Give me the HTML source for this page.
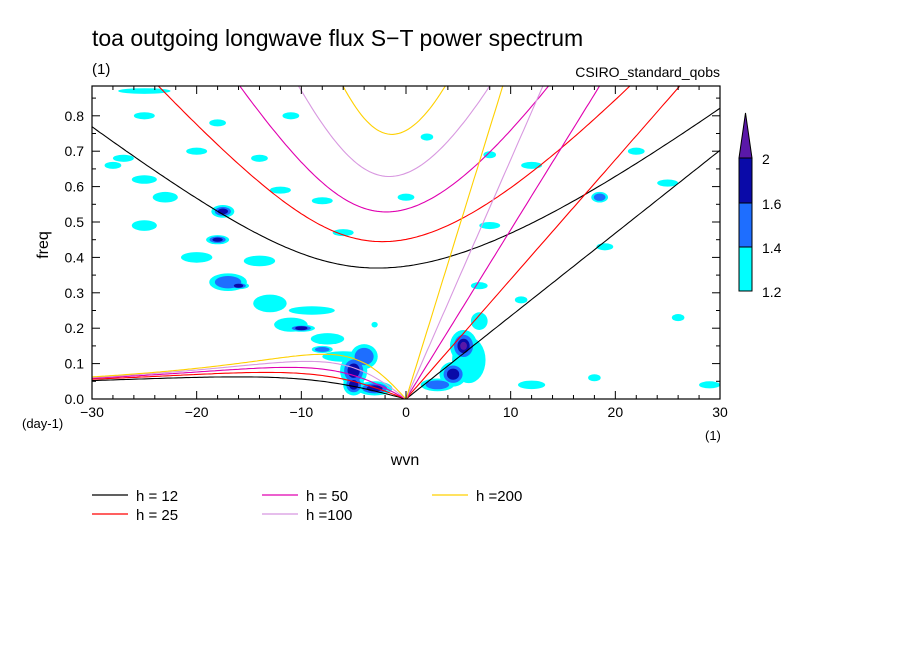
<!DOCTYPE html>
<html><head><meta charset="utf-8">
<style>
html,body{margin:0;padding:0;background:#fff;}
svg{display:block;font-family:"Liberation Sans",sans-serif;}
</style></head>
<body>
<svg id="chart" width="904" height="654" viewBox="0 0 904 654" xmlns="http://www.w3.org/2000/svg">
<defs><clipPath id="plotclip"><rect x="92" y="86" width="628" height="313"/></clipPath></defs>
<text x="92" y="46" font-size="23">toa outgoing longwave flux S−T power spectrum</text>
<text x="92" y="74" font-size="15">(1)</text>
<text x="720" y="77" font-size="14" text-anchor="end">CSIRO_standard_qobs</text>
<g id="blobs" clip-path="url(#plotclip)"></g>
<g id="curves" clip-path="url(#plotclip)"></g>
<rect x="92" y="86" width="628" height="313" fill="none" stroke="#000" stroke-width="1.2"/>
<g id="axes"></g>
<text x="405" y="465" font-size="16" text-anchor="middle">wvn</text>
<text x="48" y="245" font-size="16" text-anchor="middle" transform="rotate(-90 48 245)">freq</text>
<text x="22" y="428" font-size="13">(day-1)</text>
<text x="705" y="440" font-size="13">(1)</text>
<g id="colorbar"></g>
<g id="legend"></g>
</svg>
<script>
// ---- data ----
const depths = [12, 25, 50, 100, 200];
const depthColors = ["#000000", "#ff0000", "#e000b0", "#d898e0", "#ffd000"];
const xTicks = [-30, -20, -10, 0, 10, 20, 30];
const yTicks = [0, 0.1, 0.2, 0.3, 0.4, 0.5, 0.6, 0.7, 0.8];
const cbLevels = [1.2, 1.4, 1.6, 2];
const cbColors = ["#00ffff", "#1e6eff", "#0a0aa8", "#5a18a8"];
// contour blobs: wavenumber, frequency, radius in wvn, radius in freq, peak level index
const blobK = [-25,-27,-25,-17.5,-25,-18,-14,-17,-16,-13,-11,-10,-7.5,-8,-4,-5,-5,-3,-6,-9,-20,-23,
  5.5,4.5,3,7,6,12,
  -11,-14,-12,-20,-18,-25,-8,0,-6,8,7,-3,12,18.5,25,22,19,26,29,18,8,11,2,-28];
const blobF = [0.87,0.68,0.62,0.53,0.49,0.45,0.39,0.33,0.32,0.27,0.21,0.2,0.17,0.14,0.12,0.08,0.04,0.03,0.12,0.25,0.4,0.57,
  0.15,0.07,0.04,0.22,0.11,0.04,
  0.8,0.68,0.59,0.7,0.78,0.8,0.56,0.57,0.47,0.49,0.32,0.21,0.66,0.57,0.61,0.7,0.43,0.23,0.04,0.06,0.69,0.28,0.74,0.66];
const blobRK = [2.5,1,1.2,1.1,1.2,1.1,1.5,1.8,1,1.6,1.6,1.3,1.6,1,1.3,1.3,1,1.7,2,2.2,1.5,1.2,
  1.3,1.3,1.6,0.8,1.6,1.3,
  0.8,0.8,1,1,0.8,1,1,0.8,1,1,0.8,0.3,1,0.8,1,0.8,0.8,0.6,1,0.6,0.6,0.6,0.6,0.8];
const blobRF = [0.008,0.01,0.012,0.018,0.015,0.013,0.015,0.025,0.01,0.025,0.02,0.01,0.016,0.01,0.035,0.045,0.03,0.02,0.015,0.012,0.015,0.015,
  0.045,0.035,0.018,0.025,0.065,0.012,
  0.01,0.01,0.01,0.01,0.01,0.01,0.01,0.01,0.01,0.01,0.01,0.008,0.01,0.015,0.01,0.01,0.01,0.01,0.01,0.01,0.01,0.01,0.01,0.01];
const blobPeak = [1,1,1,3,1,3,1,2,3,1,1,3,1,2,2,3,3,3,1,1,1,1,
  4,3,2,1,1,1,
  1,1,1,1,1,1,1,1,1,1,1,1,1,2,1,1,1,1,1,1,1,1,1,1];

// ---- axes ----
const NS = "http://www.w3.org/2000/svg";
const X0 = 92, X1 = 720, Y0 = 399, YPER = 354;
const xs = k => X0 + (k + 30) / 60 * (X1 - X0);
const ys = f => Y0 - f * YPER;
function mk(tag, attrs, parent) {
  const e = document.createElementNS(NS, tag);
  for (const a in attrs) e.setAttribute(a, attrs[a]);
  parent.appendChild(e); return e;
}
const axes = document.getElementById("axes");
for (let k = -30; k <= 30; k += 2) {
  const major = k % 10 === 0, L = major ? 8 : 4;
  const t1 = mk("line", {x1: xs(k), x2: xs(k), y1: Y0, y2: Y0 - L, stroke: "#000"}, axes);
  
  
  const t2 = mk("line", {x1: xs(k), x2: xs(k), y1: 86, y2: 86 + L, stroke: "#000"}, axes);
  
  
}
for (let i = 0; i <= 17; i++) {
  const f = i * 0.05, major = i % 2 === 0, L = major ? 8 : 4;
  const t1 = mk("line", {x1: X0, x2: X0 + L, y1: ys(f), y2: ys(f), stroke: "#000"}, axes);
  
  
  const t2 = mk("line", {x1: X1, x2: X1 - L, y1: ys(f), y2: ys(f), stroke: "#000"}, axes);
  
  
}
xTicks.forEach(k => {
  const t = mk("text", {x: xs(k), y: 417, "font-size": 14, "text-anchor": "middle"}, axes);
  t.textContent = k < 0 ? "−" + (-k) : String(k);
  
  
});
yTicks.forEach(f => {
  const t = mk("text", {x: 84, y: ys(f) + 5, "font-size": 14, "text-anchor": "end"}, axes);
  t.textContent = f.toFixed(1);
  
  
});

// ---- blobs ----
const bg = document.getElementById("blobs");
const scales = [1, 0.7, 0.45, 0.25];
for (let lv = 0; lv < 4; lv++) {
  blobK.forEach((k, i) => {
    if (blobPeak[i] <= lv) return;
    const rx = blobRK[i] * scales[lv] * (X1 - X0) / 60, ry = blobRF[i] * scales[lv] * YPER;
    const e = mk("ellipse", {cx: xs(k), cy: ys(blobF[i]), rx: Math.max(rx, 2), ry: Math.max(ry, 2), fill: cbColors[lv]}, bg);
    
    
  });
}

// ---- dispersion curves ----
const R = 6.371e6, g = 9.81, beta = 2 * 7.292e-5 / R, conv = 86400 / (2 * Math.PI);
const cg = document.getElementById("curves");
function path(pts, color, name) {
  const d = pts.map((p, i) => (i ? "L" : "M") + xs(p[0]).toFixed(1) + " " + ys(p[1]).toFixed(1)).join(" ");
  const e = mk("path", {d: d, fill: "none", stroke: color, "stroke-width": 1.1}, cg);
  
  
}
depths.forEach((h, j) => {
  const c = Math.sqrt(g * h), col = depthColors[j];
  const kel = [], ig = [], er = [];
  for (let w = -30; w <= 30.001; w += 0.25) {
    const k = w / R;
    if (w >= 0) kel.push([w, k * c * conv]);
    let om = Math.sqrt(3 * beta * c + k * k * c * c);
    for (let it = 0; it < 30; it++) om = Math.sqrt(Math.max(3 * beta * c + k * k * c * c + beta * k * c * c / om, 1e-14));
    ig.push([w, om * conv]);
    if (w <= 0) er.push([w, -beta * k / (k * k + 3 * beta / c) * conv]);
  }
  path(kel, col, "kelvin-curve-h" + h);
  path(ig, col, "ig-curve-h" + h);
  path(er, col, "er-curve-h" + h);
});

// ---- colorbar ----
const cb = document.getElementById("colorbar");
const segY = [291, 247, 203, 158];
for (let i = 0; i < 3; i++) {
  const r = mk("rect", {x: 739, y: segY[i + 1], width: 13, height: segY[i] - segY[i + 1], fill: cbColors[i], stroke: "#000", "stroke-width": 1}, cb);
  
  
}
const tri = mk("polygon", {points: "739,158 752,158 745.5,113", fill: cbColors[3], stroke: "#000", "stroke-width": 1}, cb);


cbLevels.forEach((v, i) => {
  const t = mk("text", {x: 762, y: segY[i] + 6, "font-size": 14}, cb);
  t.textContent = String(v);
  
  
});

// ---- legend ----
const lg = document.getElementById("legend");
const legX = [92, 92, 262, 262, 432], legY = [495, 514, 495, 514, 495];
const legTxt = ["h = 12", "h = 25", "h = 50", "h =100", "h =200"];
depths.forEach((h, i) => {
  const l = mk("line", {x1: legX[i], x2: legX[i] + 36, y1: legY[i], y2: legY[i], stroke: depthColors[i], "stroke-width": 1.3}, lg);
  
  
  const t = mk("text", {x: legX[i] + 44, y: legY[i] + 6, "font-size": 15}, lg);
  t.textContent = legTxt[i];
  
  
});
</script>
</body></html>
